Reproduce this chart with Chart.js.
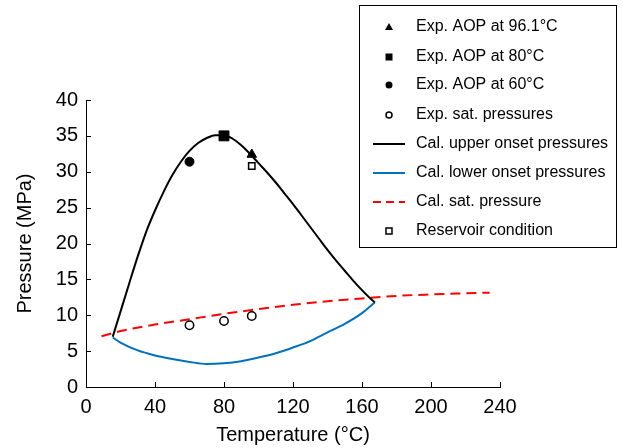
<!DOCTYPE html>
<html>
<head>
<meta charset="utf-8">
<script src="https://cdn.jsdelivr.net/npm/chart.js@4/dist/chart.umd.min.js"></script>
<style>
  body { margin: 0; background: #fff; }
  canvas { display: block; }
</style>
</head>
<body>
<canvas id="aop-chart" width="622" height="448"></canvas>
<script>
// Upper / lower asphaltene onset pressure envelope
const upperT = [15.5, 20, 25, 30, 35, 40, 45, 50, 55, 60, 65, 70, 75, 80, 85, 90, 95, 100, 105, 110, 115, 120, 125, 130, 135, 140, 145, 150, 155, 160, 165, 167.5];
const upperP = [7.0, 10.5, 14.4, 18.2, 21.7, 24.6, 27.2, 29.5, 31.4, 32.9, 34.0, 34.7, 35.1, 35.1, 34.6, 33.7, 32.5, 31.2, 29.9, 28.5, 27.0, 25.5, 23.9, 22.3, 20.7, 19.1, 17.6, 16.2, 14.8, 13.5, 12.3, 11.8];

const lowerT = [15.5, 20, 30, 40, 50, 60, 70, 80, 90, 100, 110, 120, 130, 140, 150, 160, 167.5];
const lowerP = [6.9, 6.2, 5.1, 4.4, 3.9, 3.5, 3.2, 3.3, 3.6, 4.1, 4.7, 5.5, 6.4, 7.6, 8.8, 10.3, 11.8];

// Calculated saturation pressure
const satT = [9, 20, 40, 60, 80, 100, 120, 140, 160, 180, 200, 220, 234];
const satP = [7.07, 7.8, 8.7, 9.45, 10.2, 10.85, 11.45, 11.95, 12.35, 12.7, 12.9, 13.05, 13.15];

// Experimental points
const aop96T = [96.1], aop96P = [32.4];
const aop80T = [80], aop80P = [35.0];
const aop60T = [60], aop60P = [31.4];
const expSatT = [60, 80, 96.1];
const expSatP = [8.6, 9.2, 9.9];
const resT = [96.1], resP = [30.8];

const xTicks = [0, 40, 80, 120, 160, 200, 240];
const yTicks = [0, 5, 10, 15, 20, 25, 30, 35, 40];

const FONT = '"Liberation Sans", Arial, Helvetica, sans-serif';
const BLUE = '#0072BD';

const pts = (xs, ys) => xs.map((x, i) => ({ x: x, y: ys[i] }));

const datasets = [
  { label: 'Exp. AOP at 96.1°C', data: pts(aop96T, aop96P), pointStyle: 'triangle', pointRadius: 5.5,
    backgroundColor: '#000', borderColor: '#000', borderWidth: 1, showLine: false },
  { label: 'Exp. AOP at 80°C', data: pts(aop80T, aop80P), pointStyle: 'rect', pointRadius: 7,
    backgroundColor: '#000', borderColor: '#000', borderWidth: 1, showLine: false },
  { label: 'Exp. AOP at 60°C', data: pts(aop60T, aop60P), pointStyle: 'circle', pointRadius: 4.5,
    backgroundColor: '#000', borderColor: '#000', borderWidth: 1, showLine: false },
  { label: 'Exp. sat. pressures', data: pts(expSatT, expSatP), pointStyle: 'circle', pointRadius: 4.2,
    backgroundColor: '#fff', borderColor: '#000', borderWidth: 1.5, showLine: false },
  { label: 'Reservoir condition', data: pts(resT, resP), pointStyle: 'rect', pointRadius: 4.5,
    backgroundColor: '#fff', borderColor: '#000', borderWidth: 1.5, showLine: false },
  { label: 'Cal. upper onset pressures', data: pts(upperT, upperP), showLine: true, pointRadius: 0,
    borderColor: '#000', borderWidth: 2, cubicInterpolationMode: 'monotone', fill: false },
  { label: 'Cal. lower onset pressures', data: pts(lowerT, lowerP), showLine: true, pointRadius: 0,
    borderColor: BLUE, borderWidth: 2, cubicInterpolationMode: 'monotone', fill: false },
  { label: 'Cal. sat. pressure', data: pts(satT, satP), showLine: true, pointRadius: 0,
    borderColor: '#ff0000', borderWidth: 2, borderDash: [10, 6], cubicInterpolationMode: 'monotone', fill: false }
];

// Legend entries in display order
const legendItems = [
  { text: 'Exp. AOP at 96.1°C', kind: 'triangle' },
  { text: 'Exp. AOP at 80°C', kind: 'square' },
  { text: 'Exp. AOP at 60°C', kind: 'dot' },
  { text: 'Exp. sat. pressures', kind: 'ring' },
  { text: 'Cal. upper onset pressures', kind: 'line', color: '#000' },
  { text: 'Cal. lower onset pressures', kind: 'line', color: BLUE },
  { text: 'Cal. sat. pressure', kind: 'dash', color: '#ff0000' },
  { text: 'Reservoir condition', kind: 'box' }
];

// Inward tick marks on the left and bottom axes
const innerTicks = {
  id: 'innerTicks',
  afterDraw(chart) {
    const ctx = chart.ctx;
    const xs = chart.scales.x, ys = chart.scales.y;
    const area = chart.chartArea;
    ctx.save();
    ctx.strokeStyle = '#000';
    ctx.lineWidth = 1;
    ctx.beginPath();
    xTicks.forEach(v => {
      const px = Math.round(xs.getPixelForValue(v)) + 0.5;
      ctx.moveTo(px, area.bottom);
      ctx.lineTo(px, area.bottom - 5);
    });
    yTicks.forEach(v => {
      const py = Math.round(ys.getPixelForValue(v)) + 0.5;
      ctx.moveTo(area.left, py);
      ctx.lineTo(area.left + 5, py);
    });
    ctx.stroke();
    ctx.restore();
  }
};

// Boxed legend in the upper right
const boxLegend = {
  id: 'boxLegend',
  afterDraw(chart) {
    const ctx = chart.ctx;
    const left = 359, top = 5, width = 257, height = 242;
    const rowY = [27, 57, 85, 115, 144, 173, 202, 231];
    ctx.save();
    ctx.fillStyle = '#fff';
    ctx.fillRect(left, top, width, height);
    ctx.strokeStyle = '#000';
    ctx.lineWidth = 1;
    ctx.strokeRect(left + 0.5, top + 0.5, width, height);
    ctx.font = '16px ' + FONT;
    ctx.textBaseline = 'middle';
    const mx = 389;
    legendItems.forEach((it, i) => {
      const y = rowY[i];
      ctx.fillStyle = '#000';
      ctx.strokeStyle = it.color || '#000';
      ctx.setLineDash([]);
      ctx.lineWidth = 1.5;
      if (it.kind === 'triangle') {
        ctx.beginPath();
        ctx.moveTo(mx, y - 4);
        ctx.lineTo(mx + 4, y + 3);
        ctx.lineTo(mx - 4, y + 3);
        ctx.closePath();
        ctx.fill();
      } else if (it.kind === 'square') {
        ctx.fillRect(mx - 3.5, y - 3.5, 7, 7);
      } else if (it.kind === 'dot') {
        ctx.beginPath();
        ctx.arc(mx, y, 3.5, 0, Math.PI * 2);
        ctx.fill();
      } else if (it.kind === 'ring') {
        ctx.beginPath();
        ctx.arc(mx, y, 3, 0, Math.PI * 2);
        ctx.stroke();
      } else if (it.kind === 'box') {
        ctx.strokeRect(mx - 3, y - 3, 6, 6);
      } else {
        ctx.lineWidth = 2;
        if (it.kind === 'dash') ctx.setLineDash([8, 5]);
        ctx.beginPath();
        ctx.moveTo(373, y);
        ctx.lineTo(405, y);
        ctx.stroke();
      }
      ctx.setLineDash([]);
      ctx.fillStyle = '#000';
      ctx.fillText(it.text, 416, y);
    });
    ctx.restore();
  }
};

const ctx = document.getElementById('aop-chart').getContext('2d');
const aopChart = new Chart(ctx, {
  type: 'scatter',
  data: { datasets: datasets },
  options: {
    responsive: false,
    animation: false,
    devicePixelRatio: 1,
    layout: { padding: { top: 100, right: 122, left: 0, bottom: 0 } },
    plugins: {
      legend: { display: false },
      tooltip: { enabled: false }
    },
    scales: {
      x: {
        type: 'linear',
        min: 0,
        max: 240,
        afterBuildTicks: s => { s.ticks = xTicks.map(v => ({ value: v })); },
        afterFit: s => { s.height = 61; },
        grid: { display: false, drawTicks: false },
        border: { display: true, color: '#000', width: 1 },
        ticks: { color: '#000', padding: 8, font: { family: FONT, size: 20 } },
        title: { display: true, text: 'Temperature (°C)', color: '#000',
                 font: { family: FONT, size: 20 }, padding: { top: 0, bottom: 1 } }
      },
      y: {
        type: 'linear',
        min: 0,
        max: 40,
        afterBuildTicks: s => { s.ticks = yTicks.map(v => ({ value: v })); },
        afterFit: s => { s.width = 86; },
        grid: { display: false, drawTicks: false },
        border: { display: true, color: '#000', width: 1 },
        ticks: { color: '#000', padding: 8, font: { family: FONT, size: 20 } },
        title: { display: true, text: 'Pressure (MPa)', color: '#000',
                 font: { family: FONT, size: 20 }, padding: { top: 13, bottom: 0 } }
      }
    }
  },
  plugins: [innerTicks, boxLegend]
});
</script>
</body>
</html>
